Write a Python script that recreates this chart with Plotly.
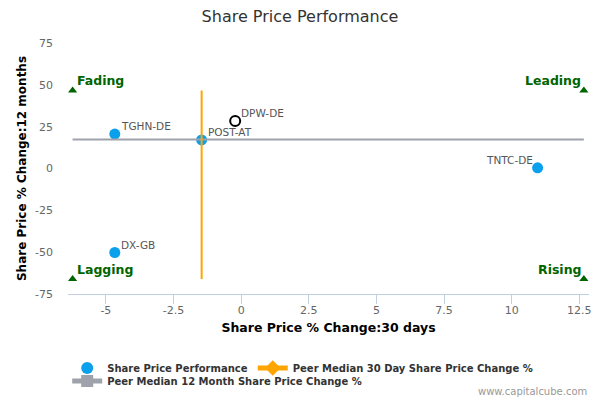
import plotly.graph_objects as go

# ---- data ----
companies = ["TGHN-DE", "POST-AT", "DX-GB", "TNTC-DE"]
chg_30d = [-4.67, -1.46, -4.67, 10.96]
chg_12m = [20.6, 17.1, -50.2, 0.4]
label_side = ["right", "right", "right", "left"]

subject = ["DPW-DE"]
subject_30d = [-0.22]
subject_12m = [28.4]

peer_median_30d = -1.46
peer_median_12m = 17.3

quad_names = ["Fading", "Leading", "Lagging", "Rising"]
quad_x = [-6.23, 12.67, -6.23, 12.67]
quad_y = [46.6, 46.6, -66.1, -66.1]
quad_side = ["right", "left", "right", "left"]

x_ticks = [-5, -2.5, 0, 2.5, 5, 7.5, 10, 12.5]
x_ticktext = ["-5", "-2.5", "0", "2.5", "5", "7.5", "10", "12.5"]
y_ticks = [-75, -50, -25, 0, 25, 50, 75]
y_ticktext = ["-75", "-50", "-25", "0", "25", "50", "75"]

FONT = "DejaVu Sans"
BLUE = "#0ba0ec"
ORANGE = "#ffa500"
GRAY = "#9ea2ab"
GREEN = "#006400"
LBL = dict(family=FONT, size=10.5, color="#555555")

fig = go.Figure()

fig.add_trace(go.Scatter(
    x=chg_30d, y=chg_12m, mode="markers",
    marker=dict(color=BLUE, size=11, symbol="circle"),
    name="Share Price Performance", showlegend=True, legend="legend", hoverinfo="skip"))

fig.add_trace(go.Scatter(
    x=subject_30d, y=subject_12m, mode="markers",
    marker=dict(color="white", size=10, symbol="circle", line=dict(color="black", width=2)),
    showlegend=False, hoverinfo="skip"))

fig.add_trace(go.Scatter(
    x=quad_x, y=quad_y, mode="markers",
    marker=dict(color=GREEN, size=8, symbol="triangle-up"),
    showlegend=False, hoverinfo="skip"))

# legend-only entries
fig.add_trace(go.Scatter(
    x=[None], y=[None], mode="lines+markers",
    line=dict(color=ORANGE, width=2), marker=dict(color=ORANGE, size=9, symbol="diamond"),
    name="Peer Median 30 Day Share Price Change %", legend="legend"))
fig.add_trace(go.Scatter(
    x=[None], y=[None], mode="lines+markers",
    line=dict(color=GRAY, width=2), marker=dict(color=GRAY, size=9, symbol="square"),
    name="Peer Median 12 Month Share Price Change %", legend="legend2"))

# peer median lines
fig.add_trace(go.Scatter(
    x=[quad_x[0], quad_x[1]], y=[peer_median_12m, peer_median_12m], mode="lines",
    line=dict(color=GRAY, width=2), showlegend=False, hoverinfo="skip"))
fig.add_trace(go.Scatter(
    x=[peer_median_30d, peer_median_30d], y=[quad_y[2], quad_y[0]], mode="lines",
    line=dict(color=ORANGE, width=2), showlegend=False, hoverinfo="skip"))

annotations = []
for name, xv, yv, side in zip(companies + subject, chg_30d + subject_30d,
                              chg_12m + subject_12m, label_side + ["right"]):
    annotations.append(dict(
        text=name, x=xv, y=yv, xref="x", yref="y", showarrow=False,
        xanchor="left" if side == "right" else "right", yanchor="middle",
        xshift=4 if side == "right" else -3, yshift=8,
        font=LBL))
for name, xv, yv, side in zip(quad_names, quad_x, quad_y, quad_side):
    annotations.append(dict(
        text=name, x=xv, y=yv, xref="x", yref="y", showarrow=False,
        xanchor="left" if side == "right" else "right", yanchor="middle",
        xshift=2 if side == "right" else -1, yshift=10,
        font=dict(family=FONT, size=12.5, color=GREEN, weight="bold")))
annotations.append(dict(text="www.capitalcube.com", xref="paper", yref="paper",
                        x=1.0, y=-0.39, xanchor="right", yanchor="middle", showarrow=False,
                        font=dict(family=FONT, size=10, color="#999999")))

legend_font = dict(family=FONT, size=10, color="#333333", weight="bold")

fig.update_layout(
    width=600, height=400,
    margin=dict(l=68, r=11, t=43, b=106, autoexpand=False),
    paper_bgcolor="white", plot_bgcolor="white",
    font=dict(family=FONT),
    title=dict(text="Share Price Performance", x=0.5, xanchor="center",
               yref="container", y=0.96, yanchor="middle", automargin=False,
               font=dict(family=FONT, size=16, color="#333333")),
    xaxis=dict(range=[-6.4, 12.86], showgrid=False, zeroline=False, automargin=False,
               showline=True, linecolor="#c0d0e0", linewidth=1,
               ticks="outside", ticklen=9, tickcolor="#c0d0e0",
               tickvals=x_ticks, ticktext=x_ticktext, ticklabelstandoff=-3,
               tickfont=dict(family=FONT, size=11, color="#666666"),
               title=dict(text="Share Price % Change:30 days", standoff=7,
                          font=dict(family=FONT, size=12.5, color="#000000", weight="bold"))),
    yaxis=dict(range=[-75, 75], showgrid=False, zeroline=False, showline=False, automargin=False,
               ticks="", tickvals=y_ticks, ticktext=y_ticktext, ticklabelstandoff=14,
               tickfont=dict(family=FONT, size=11, color="#666666"),
               title=dict(text="Share Price % Change:12 months", standoff=5,
                          font=dict(family=FONT, size=12, color="#000000", weight="bold"))),
    legend=dict(orientation="h", xref="container", x=0.112, xanchor="left",
                yref="container", y=0.08, yanchor="middle",
                font=legend_font, itemsizing="constant", bgcolor="rgba(0,0,0,0)"),
    legend2=dict(orientation="h", xref="container", x=0.112, xanchor="left",
                 yref="container", y=0.0475, yanchor="middle",
                 font=legend_font, itemsizing="constant", bgcolor="rgba(0,0,0,0)"),
    annotations=annotations,
    showlegend=True,
)

fig.write_html("out.html", config={"displayModeBar": False},
               post_script="document.body.style.margin='0px';")
